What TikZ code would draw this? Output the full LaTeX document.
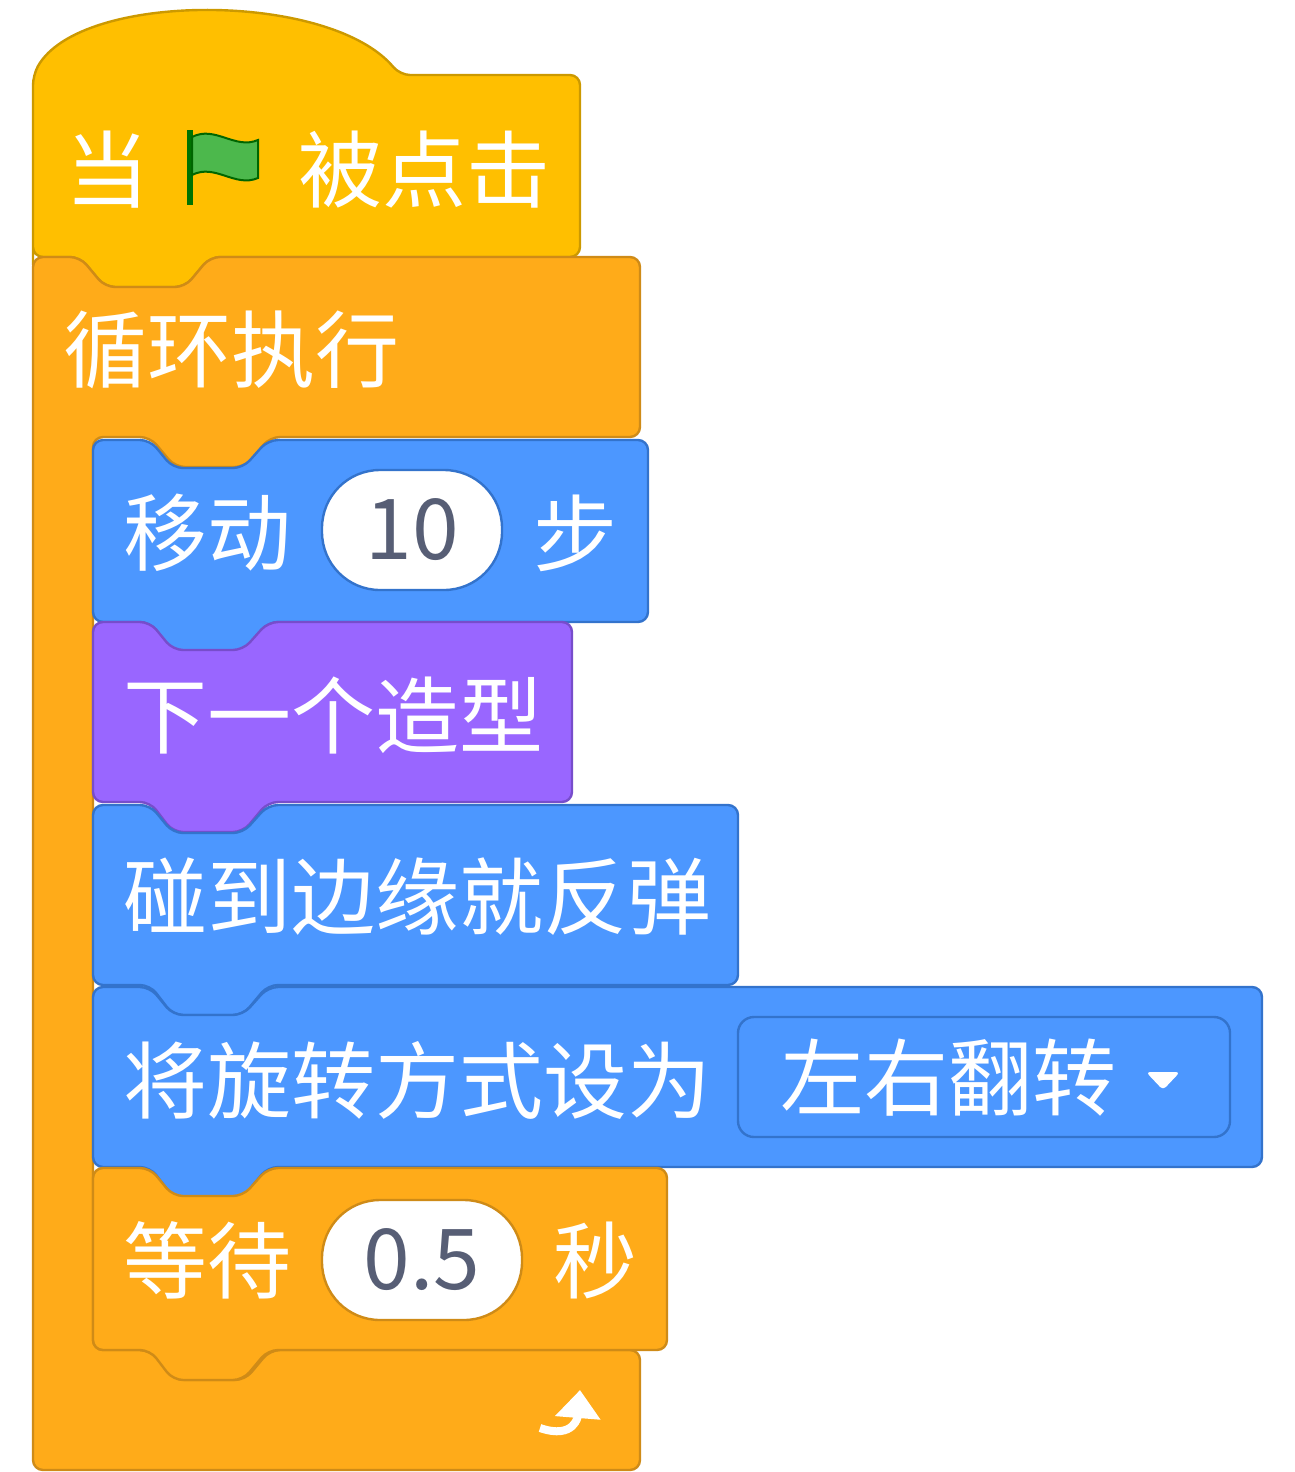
\documentclass[tikz,border=0pt]{standalone}
\usepackage{fontspec}
\setmainfont{Noto Sans CJK SC}
\usetikzlibrary{arrows.meta}
\definecolor{hatfill}{HTML}{FFBF00}
\definecolor{hatline}{HTML}{CC9900}
\definecolor{ctrlfill}{HTML}{FFAB19}
\definecolor{ctrlline}{HTML}{CF8B17}
\definecolor{motfill}{HTML}{4C97FF}
\definecolor{motline}{HTML}{3373CC}
\definecolor{lookfill}{HTML}{9966FF}
\definecolor{lookline}{HTML}{774DCB}
\definecolor{numtext}{HTML}{575E75}
% block outline with notch on top and tab below
\newcommand{\stackblock}[5]{%
  \draw[block=#5] (#1,#2) -- ({#1+57},#2) -- ({#1+80},{#2+28}) -- ({#1+150},{#2+28}) -- ({#1+175},#2)
    -- (#3,#2) -- (#3,#4) -- ({#1+175},#4) -- ({#1+150},{#4+30}) -- ({#1+80},{#4+30}) -- ({#1+57},#4)
    -- (#1,#4) -- cycle;}
\begin{document}
\begin{tikzpicture}[x=0.5pt,y=-0.5pt,
    block/.style={draw=#1line, fill=#1fill, line width=1.2pt, rounded corners=5pt, line join=round},
    txt/.style={anchor=west, text=white, font=\fontsize{42}{42}\selectfont, inner sep=0pt},
    num/.style={text=numtext, font=\fontsize{42}{42}\selectfont, inner sep=0pt},
    oval/.style={draw=#1, fill=white, line width=1.2pt, rounded corners=29pt}]
  \useasboundingbox (0,0) rectangle (1295,1472);
  % hat block
  \draw[block=hat] (33,255) -- (33,75) .. controls (80,-9) and (330,-9) .. (400,75)
    -- (580,75) -- (580,257) -- (210,257) -- (185,287) -- (105,287) -- (80,257) -- (33,257) -- cycle;
  \node[txt] (when) at (65,170) {当};
  \draw[line width=3pt, draw=green!45!black] (190,130) -- (190,205);
  \draw[fill=green!60!black!70, draw=green!40!black, line width=1pt]
    (192,137) .. controls (215,125) and (235,150) .. (258,140) -- (258,178)
    .. controls (235,188) and (215,163) .. (192,175) -- cycle;
  \node[txt] (clicked) at (298,170) {被点击};
  % forever block
  \draw[block=ctrl] (33,257) -- (80,257) -- (105,287) -- (185,287) -- (210,257) -- (640,257)
    -- (640,437) -- (270,437) -- (245,467) -- (175,467) -- (150,437) -- (93,437)
    -- (93,1350) -- (150,1350) -- (175,1380) -- (245,1380) -- (270,1350) -- (640,1350)
    -- (640,1470) -- (33,1470) -- cycle;
  \node[txt] (forever) at (63,350) {循环执行};
  \draw[white, line width=4pt, -{Triangle[length=14pt,width=22pt]}]
    (540,1428) .. controls (575,1440) and (578,1415) .. (580,1390);
  % move block
  \stackblock{93}{440}{648}{622}{mot}
  \node[txt] (move) at (123,533) {移动};
  \draw[oval=motline] (322,470) rectangle (502,590);
  \node[num] (ten) at (412,530) {10};
  \node[txt] (steps) at (533,533) {步};
  % next costume
  \stackblock{93}{622}{572}{802}{look}
  \node[txt] (costume) at (123,715) {下一个造型};
  % bounce
  \stackblock{93}{805}{738}{985}{mot}
  \node[txt] (bounce) at (123,897) {碰到边缘就反弹};
  % rotation style
  \stackblock{93}{987}{1262}{1167}{mot}
  \node[txt] (rotate) at (123,1080) {将旋转方式设为};
  \draw[draw=motline, fill=motfill, line width=1.2pt, rounded corners=8pt]
    (738,1017) rectangle (1230,1137);
  \node[txt] (flip) at (780,1078) {左右翻转};
  \fill[white, rounded corners=2pt] (1146,1072) -- (1180,1072) -- (1163,1090) -- cycle;
  % wait block
  \stackblock{93}{1168}{667}{1350}{ctrl}
  \node[txt] (wait) at (123,1260) {等待};
  \draw[oval=ctrlline] (322,1200) rectangle (522,1320);
  \node[num] (half) at (422,1260) {0.5};
  \node[txt] (secs) at (553,1260) {秒};
\end{tikzpicture}
\end{document}
